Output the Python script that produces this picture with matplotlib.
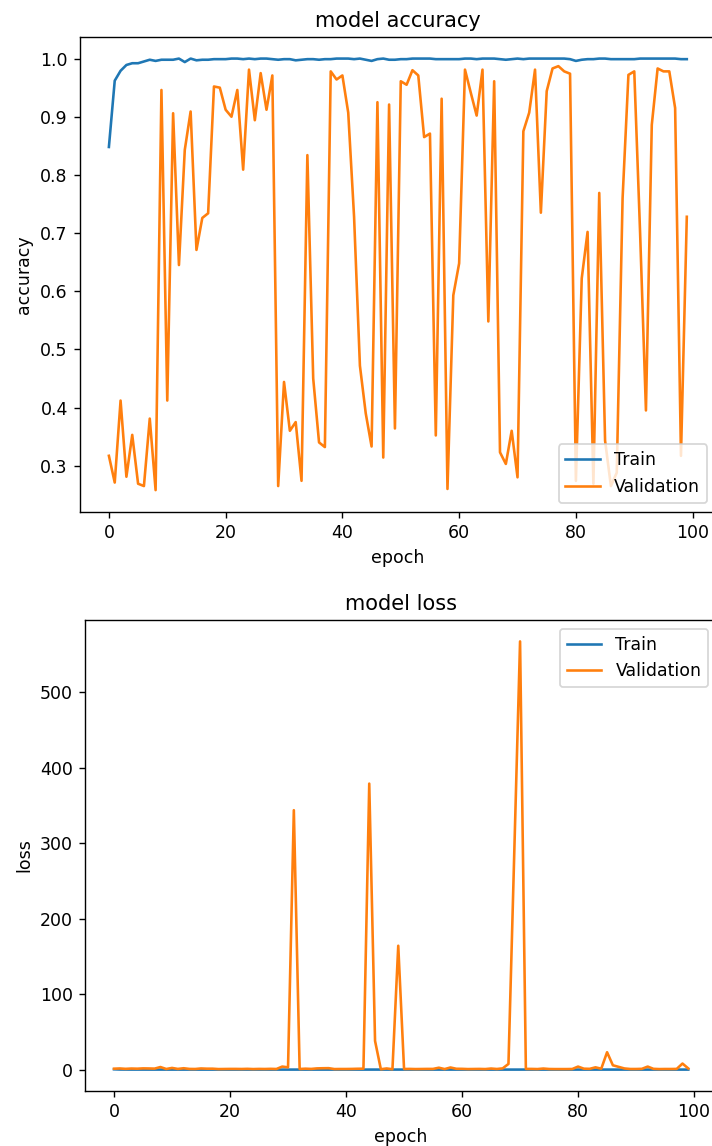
import matplotlib
matplotlib.use("Agg")
import matplotlib.pyplot as plt

# epochs 0..99
epochs = list(range(100))

# training accuracy per epoch
train_acc = [
    0.848, 0.962, 0.979, 0.989, 0.992, 0.992, 0.995, 0.998, 0.996, 0.998,
    0.998, 0.998, 1.000, 0.994, 1.000, 0.997, 0.998, 0.998, 0.999, 0.999,
    0.999, 1.000, 1.000, 0.999, 1.000, 0.999, 1.000, 1.000, 0.999, 0.998,
    0.999, 0.999, 0.997, 0.998, 0.999, 0.999, 0.998, 0.999, 0.999, 1.000,
    1.000, 1.000, 0.999, 1.000, 0.998, 0.996, 0.999, 1.000, 0.998, 0.998,
    0.999, 0.999, 1.000, 1.000, 1.000, 1.000, 0.999, 0.999, 0.999, 0.999,
    0.999, 1.000, 1.000, 0.999, 1.000, 1.000, 1.000, 0.999, 0.998, 0.999,
    1.000, 0.999, 1.000, 1.000, 1.000, 1.000, 1.000, 1.000, 1.000, 0.999,
    0.996, 0.998, 0.999, 0.999, 1.000, 1.000, 0.999, 0.999, 0.999, 0.999,
    0.999, 1.000, 1.000, 1.000, 1.000, 1.000, 1.000, 1.000, 0.999, 0.999,
]

# validation accuracy per epoch
val_acc = [
    0.317, 0.271, 0.412, 0.281, 0.353, 0.269, 0.265, 0.381, 0.258, 0.946,
    0.412, 0.906, 0.645, 0.843, 0.909, 0.671, 0.726, 0.734, 0.952, 0.950,
    0.912, 0.900, 0.946, 0.809, 0.981, 0.894, 0.975, 0.912, 0.971, 0.265,
    0.444, 0.360, 0.375, 0.274, 0.834, 0.450, 0.340, 0.332, 0.978, 0.964,
    0.971, 0.907, 0.728, 0.472, 0.390, 0.333, 0.925, 0.314, 0.921, 0.364,
    0.961, 0.955, 0.980, 0.971, 0.865, 0.871, 0.352, 0.931, 0.260, 0.593,
    0.648, 0.981, 0.941, 0.902, 0.981, 0.548, 0.961, 0.323, 0.303, 0.360,
    0.280, 0.875, 0.907, 0.981, 0.735, 0.944, 0.983, 0.987, 0.978, 0.974,
    0.274, 0.622, 0.702, 0.269, 0.769, 0.343, 0.265, 0.288, 0.760, 0.972,
    0.978, 0.700, 0.395, 0.886, 0.983, 0.978, 0.978, 0.915, 0.317, 0.728,
]

# training loss per epoch
train_loss = [
    0.40, 0.12, 0.07, 0.04, 0.03, 0.03, 0.02, 0.01, 0.02, 0.01,
    0.01, 0.01, 0.01, 0.02, 0.01, 0.01, 0.01, 0.01, 0.01, 0.01,
    0.01, 0.01, 0.01, 0.01, 0.01, 0.01, 0.01, 0.01, 0.01, 0.01,
    0.01, 0.01, 0.01, 0.01, 0.01, 0.01, 0.01, 0.01, 0.01, 0.01,
    0.01, 0.01, 0.01, 0.01, 0.01, 0.02, 0.01, 0.01, 0.01, 0.01,
    0.01, 0.01, 0.01, 0.01, 0.01, 0.01, 0.01, 0.01, 0.01, 0.01,
    0.01, 0.01, 0.01, 0.01, 0.01, 0.01, 0.01, 0.01, 0.01, 0.01,
    0.01, 0.01, 0.01, 0.01, 0.01, 0.01, 0.01, 0.01, 0.01, 0.01,
    0.02, 0.01, 0.01, 0.01, 0.01, 0.01, 0.01, 0.01, 0.01, 0.01,
    0.01, 0.01, 0.01, 0.01, 0.01, 0.01, 0.01, 0.01, 0.01, 0.01,
]

# validation loss per epoch
val_loss = [
    1.2, 1.5, 1.0, 1.4, 1.2, 1.6, 1.5, 1.3, 3.4, 0.8,
    2.2, 0.9, 1.8, 0.9, 0.8, 1.5, 1.2, 1.2, 0.7, 0.8,
    0.9, 0.9, 0.8, 1.0, 0.7, 0.9, 0.8, 1.0, 0.8, 4.0,
    3.0, 343.5, 0.8, 1.2, 0.9, 1.6, 1.8, 1.9, 0.7, 0.8,
    0.8, 0.9, 1.1, 1.2, 378.7, 38.0, 0.5, 1.5, 0.5, 164.0,
    0.8, 0.9, 0.7, 0.8, 0.9, 0.9, 2.5, 0.7, 2.8, 1.1,
    1.0, 0.7, 0.8, 0.9, 0.7, 1.4, 0.8, 1.6, 7.5, 287.0,
    567.0, 0.9, 0.9, 0.7, 1.4, 0.8, 0.7, 0.7, 0.7, 0.8,
    4.0, 1.2, 1.0, 3.0, 1.2, 23.0, 5.7, 3.6, 1.5, 0.8,
    0.8, 1.0, 4.0, 1.0, 0.7, 0.8, 0.8, 0.9, 8.0, 1.5,
]

fig = plt.figure(figsize=(712 / 125, 1146 / 125), dpi=125)
ax1 = fig.add_axes([80 / 712, 1 - 511.7 / 1146, 635.7 / 712, 474.7 / 1146])
ax2 = fig.add_axes([85.3 / 712, 1 - 1091 / 1146, 631.7 / 712, 471 / 1146])

# accuracy
ax1.plot(epochs, train_acc)
ax1.plot(epochs, val_acc)
ax1.set_title('model accuracy')
ax1.set_ylabel('accuracy')
ax1.set_xlabel('epoch')
ax1.legend(['Train', 'Validation'], loc='lower right')

# loss
ax2.plot(epochs, train_loss)
ax2.plot(epochs, val_loss)
ax2.set_title('model loss')
ax2.set_ylabel('loss')
ax2.set_xlabel('epoch')
ax2.legend(['Train', 'Validation'], loc='upper right')

fig.savefig('out.png', dpi=125)
